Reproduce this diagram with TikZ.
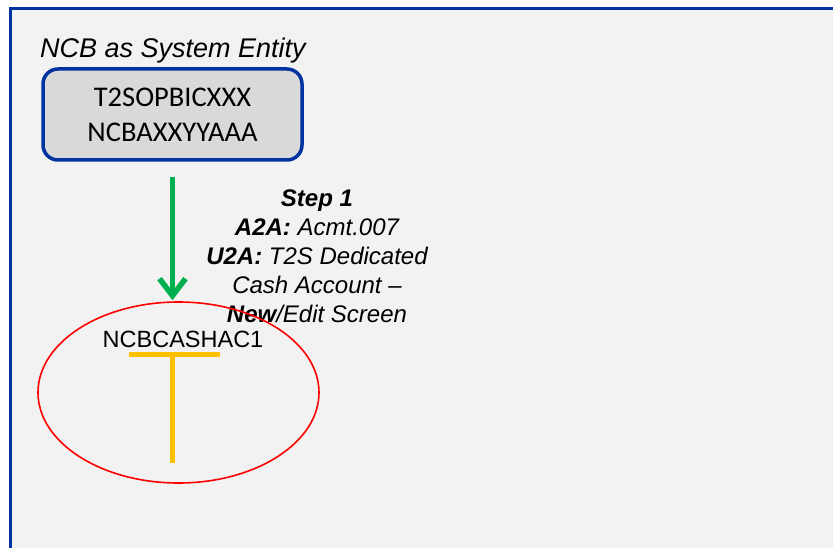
\documentclass[tikz,border=0pt]{standalone}
\usepackage{fontspec}
\setmainfont{Liberation Sans}
\newfontfamily\calib{Carlito}
\usetikzlibrary{arrows.meta,shapes.geometric,positioning}

\definecolor{panelgray}{HTML}{F2F2F2}
\definecolor{boxgray}{HTML}{D9D9D9}
\definecolor{ncbblue}{HTML}{0033A0}
\definecolor{stepgreen}{HTML}{00B050}
\definecolor{tyellow}{HTML}{FFC000}

\tikzset{
  entitybox/.style={draw=ncbblue, line width=3.5pt, fill=boxgray, rounded corners=15pt,
    minimum width=259pt, minimum height=91pt, align=center, inner sep=0pt,
    font=\calib\fontsize{28.5}{35}\selectfont},
  accellipse/.style={draw=red, line width=1.6pt, ellipse, minimum width=281pt,
    minimum height=181pt, inner sep=0pt},
  steptext/.style={align=center, font=\itshape\fontsize{24}{29}\selectfont, inner sep=0pt},
  flowarrow/.style={-{Straight Barb[length=17pt,width=26pt]}, line width=5.5pt, stepgreen},
  tbar/.style={line width=5.5pt, tyellow}
}

\begin{document}
\begin{tikzpicture}[x=1pt,y=-1pt]
\useasboundingbox (0,0) rectangle (833,548);
% panel
\fill[panelgray] (10.5,8.5) rectangle (850,570);
\draw[ncbblue, line width=3.5pt] (10.5,570) -- (10.5,8.5) -- (850,8.5);
% system entity
\node[anchor=base west, inner sep=0pt, font=\itshape\fontsize{27}{32}\selectfont] (title) at (40,58) {NCB as System Entity};
\node[entitybox] (sysent) at (172.5,114.5) {T2SOPBICXXX\\NCBAXXYYAAA};
% step label
\node[steptext, anchor=north] (steplbl) at (317,190)
  {\textbf{Step 1}\\\textbf{A2A:} Acmt.007\\\textbf{U2A:} T2S Dedicated\\Cash Account --\\\textbf{New}/Edit Screen};
% cash account
\node[accellipse] (cashacc) at (178.5,392.5) {};
\node[anchor=base, inner sep=0pt, font=\fontsize{23.5}{28}\selectfont] (acclbl) at (183,347) {NCBCASHAC1};
\draw[flowarrow, shorten <=15pt, shorten >=1pt] (sysent.south) -- (sysent.south |- cashacc.north);
% T account
\coordinate (tl) at (129,354.5);
\coordinate (tr) at (220,354.5);
\coordinate (tb) at (172.5,463);
\draw[tbar] (tl) -- (tr);
\draw[tbar] (tb |- tl) -- (tb);
\end{tikzpicture}
\end{document}
